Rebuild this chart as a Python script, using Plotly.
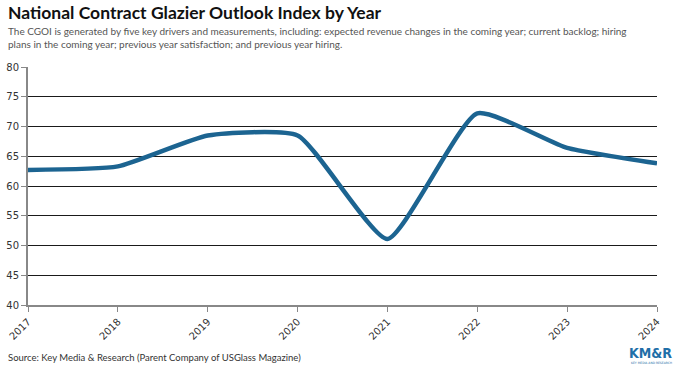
import plotly.graph_objects as go

years = ["2017", "2018", "2019", "2020", "2021", "2022", "2023", "2024"]
index_values = [62.7, 63.3, 68.5, 68.5, 51.1, 72.2, 66.4, 63.8]
y_ticks = [40, 45, 50, 55, 60, 65, 70, 75, 80]

title = "National Contract Glazier Outlook Index by Year"
subtitle = ("The CGOI is generated by five key drivers and measurements, including: expected revenue changes in the coming year; current backlog; hiring<br>"
            "plans in the coming year; previous year satisfaction; and previous year hiring.")
source = "Source: Key Media & Research (Parent Company of USGlass Magazine)"

fig = go.Figure()
fig.add_trace(go.Scatter(
    x=list(range(len(years))), y=index_values, mode="lines",
    line=dict(color="#1c6491", width=4.5, shape="spline", smoothing=0.5),
    hoverinfo="y", showlegend=False,
))

fig.update_layout(
    width=679, height=372,
    margin=dict(l=28, r=22, t=67, b=67),
    paper_bgcolor="white", plot_bgcolor="white",
    font=dict(family="DejaVu Sans", size=10, color="#333"),
    xaxis=dict(
        range=[0, len(years) - 1], tickvals=list(range(len(years))), ticktext=years,
        tickangle=-45, showgrid=False, showline=True, linecolor="#888", linewidth=2,
        ticks="outside", ticklen=5, tickcolor="#888", zeroline=False, automargin=False,
        tickfont=dict(family="DejaVu Sans", size=10, color="#333"),
    ),
    yaxis=dict(
        range=[40, 80], tickvals=y_ticks, showgrid=True, gridcolor="#1a1a1a", gridwidth=1.2,
        showline=True, linecolor="#888", linewidth=2, ticks="outside", ticklen=5,
        tickcolor="#888", zeroline=False, automargin=False,
        tickfont=dict(family="DejaVu Sans", size=10, color="#333"),
    ),
    annotations=[
        dict(text="<b>" + title + "</b>", x=0, y=1, xref="paper", yref="paper",
             xanchor="left", yanchor="top", showarrow=False, xshift=-22, yshift=67,
             font=dict(family="Lato", size=17.5, color="#111")),
        dict(text=subtitle, x=0, y=1, xref="paper", yref="paper", align="left",
             xanchor="left", yanchor="top", showarrow=False, xshift=-22, yshift=44,
             font=dict(family="Lato", size=10, color="#555")),
        dict(text=source, x=0, y=0, xref="paper", yref="paper",
             xanchor="left", yanchor="middle", showarrow=False, xshift=-22, yshift=-52,
             font=dict(family="Lato", size=9.5, color="#333")),
        dict(text="<b>KM&R</b>", x=1, y=0, xref="paper", yref="paper",
             xanchor="right", yanchor="middle", showarrow=False, xshift=17, yshift=-48,
             font=dict(family="DejaVu Sans Condensed", size=14, color="#1f6fa8")),
        dict(text="KEY MEDIA AND RESEARCH", x=1, y=0, xref="paper", yref="paper",
             xanchor="right", yanchor="middle", showarrow=False, xshift=17, yshift=-58,
             font=dict(family="DejaVu Sans", size=3, color="#1f6fa8")),
    ],
)

fig.write_html("out.html", config={"displayModeBar": False},
               post_script="document.body.style.margin='0px';")
